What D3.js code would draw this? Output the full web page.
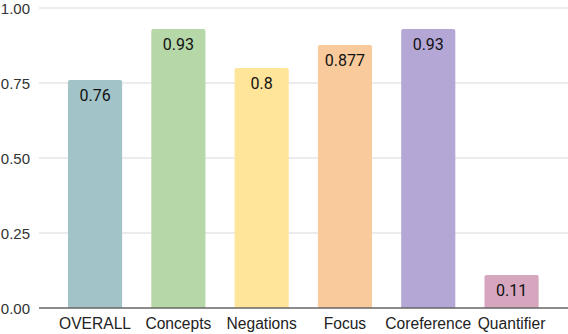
<!DOCTYPE html>
<html>
<head>
<meta charset="utf-8">
<script src="https://cdn.jsdelivr.net/npm/d3@7"></script>
<style>
  body { margin: 0; background: #fff; }
  .tick-label { font-family: "Liberation Sans", Arial, sans-serif; font-size: 15px; fill: #333; }
  .cat-label { font-family: "Liberation Sans", Arial, sans-serif; font-size: 15.6px; fill: #222; }
  .bar-label { font-family: Roboto, sans-serif; font-size: 16px; fill: #111; }
</style>
</head>
<body>
<svg id="chart" width="568" height="334"></svg>
<script>
'use strict';

var categories = ['OVERALL', 'Concepts', 'Negations', 'Focus', 'Coreference', 'Quantifier'];
var values = [0.76, 0.93, 0.8, 0.877, 0.93, 0.11];
var labels = ['0.76', '0.93', '0.8', '0.877', '0.93', '0.11'];
var colors = ['#a2c4c9', '#b6d7a8', '#ffe599', '#f9cb9c', '#b4a7d6', '#d5a6bd'];
var yTicks = [0, 0.25, 0.5, 0.75, 1];

var svg = d3.select('#chart');

var x = d3.scaleBand().domain(categories).range([53.4, 553.2])
    .paddingInner(0.35).paddingOuter(0.175);
var y = d3.scaleLinear().domain([0, 1]).range([308, 8]);

var GRID_LEFT = 39;
var GRID_RIGHT = 568;

// grid lines
svg.append('g').selectAll('line').data(yTicks.filter(function (d) { return d > 0; }))
    .enter().append('line')
    .attr('x1', GRID_LEFT).attr('x2', GRID_RIGHT)
    .attr('y1', function (d) { return y(d); }).attr('y2', function (d) { return y(d); })
    .attr('stroke', '#d9d9d9').attr('stroke-width', 1);

// tick labels
svg.append('g').selectAll('text').data(yTicks)
    .enter().append('text').attr('class', 'tick-label')
    .attr('text-anchor', 'end')
    .attr('x', 30).attr('y', function (d) { return y(d) + 5.5; })
    .text(function (d) { return d3.format('.2f')(d); });

// bars with slightly rounded top
var r = 2;
svg.append('g').selectAll('path').data(values)
    .enter().append('path')
    .attr('fill', function (d, i) { return colors[i]; })
    .attr('d', function (d, i) {
        var x0 = x(categories[i]);
        var x1 = x0 + x.bandwidth();
        var top = y(d);
        var bot = y(0);
        return ['M', x0, bot, 'L', x0, top + r, 'Q', x0, top, x0 + r, top,
            'L', x1 - r, top, 'Q', x1, top, x1, top + r, 'L', x1, bot, 'Z'].join(' ');
    });

// value labels
svg.append('g').selectAll('text').data(values)
    .enter().append('text').attr('class', 'bar-label')
    .attr('text-anchor', 'middle')
    .attr('x', function (d, i) { return x(categories[i]) + x.bandwidth() / 2; })
    .attr('y', function (d) { return y(d) + 21; })
    .text(function (d, i) { return labels[i]; });

// baseline
svg.append('line')
    .attr('x1', GRID_LEFT).attr('x2', GRID_RIGHT)
    .attr('y1', y(0)).attr('y2', y(0))
    .attr('stroke', '#666').attr('stroke-width', 1.3);

// category labels
svg.append('g').selectAll('text').data(categories)
    .enter().append('text').attr('class', 'cat-label')
    .attr('text-anchor', 'middle')
    .attr('x', function (d) { return x(d) + x.bandwidth() / 2; })
    .attr('y', 328.5)
    .text(function (d) { return d; });
</script>
</body>
</html>
